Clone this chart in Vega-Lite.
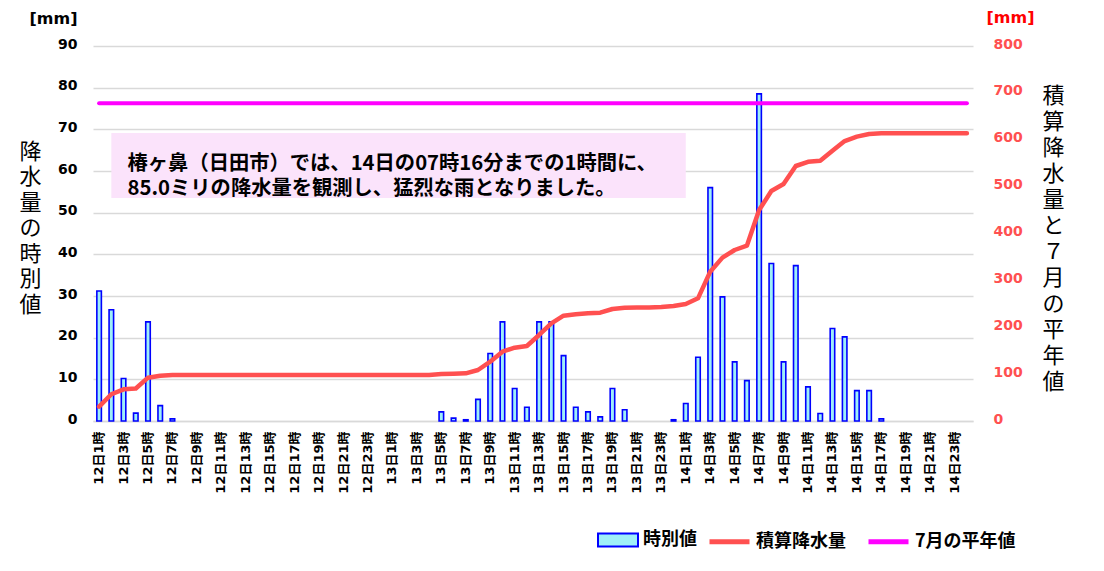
{
  "$schema": "https://vega.github.io/schema/vega-lite/v6.json",
  "autosize": {"type": "none"},
  "width": 880,
  "height": 375,
  "padding": {"left": 93, "top": 46, "right": 131, "bottom": 150},
  "background": "#ffffff",
  "config": {"view": {"stroke": null}},
  "data": {
    "values": [
      {"t": "12日1時", "h": 31.2, "c": 30.6, "n": 678},
      {"t": "12日2時", "h": 26.7, "c": 57, "n": 678},
      {"t": "12日3時", "h": 10.2, "c": 67.6, "n": 678},
      {"t": "12日4時", "h": 1.9, "c": 69.3, "n": 678},
      {"t": "12日5時", "h": 23.8, "c": 92.4, "n": 678},
      {"t": "12日6時", "h": 3.7, "c": 96.7, "n": 678},
      {"t": "12日7時", "h": 0.5, "c": 98, "n": 678},
      {"t": "12日8時", "h": 0, "c": 98, "n": 678},
      {"t": "12日9時", "h": 0, "c": 98, "n": 678},
      {"t": "12日10時", "h": 0, "c": 98, "n": 678},
      {"t": "12日11時", "h": 0, "c": 98, "n": 678},
      {"t": "12日12時", "h": 0, "c": 98, "n": 678},
      {"t": "12日13時", "h": 0, "c": 98, "n": 678},
      {"t": "12日14時", "h": 0, "c": 98, "n": 678},
      {"t": "12日15時", "h": 0, "c": 98, "n": 678},
      {"t": "12日16時", "h": 0, "c": 98, "n": 678},
      {"t": "12日17時", "h": 0, "c": 98, "n": 678},
      {"t": "12日18時", "h": 0, "c": 98, "n": 678},
      {"t": "12日19時", "h": 0, "c": 98, "n": 678},
      {"t": "12日20時", "h": 0, "c": 98, "n": 678},
      {"t": "12日21時", "h": 0, "c": 98, "n": 678},
      {"t": "12日22時", "h": 0, "c": 98, "n": 678},
      {"t": "12日23時", "h": 0, "c": 98, "n": 678},
      {"t": "12日24時", "h": 0, "c": 98, "n": 678},
      {"t": "13日1時", "h": 0, "c": 98, "n": 678},
      {"t": "13日2時", "h": 0, "c": 98, "n": 678},
      {"t": "13日3時", "h": 0, "c": 98, "n": 678},
      {"t": "13日4時", "h": 0, "c": 98, "n": 678},
      {"t": "13日5時", "h": 2.2, "c": 100.2, "n": 678},
      {"t": "13日6時", "h": 0.7, "c": 101, "n": 678},
      {"t": "13日7時", "h": 0.3, "c": 101.7, "n": 678},
      {"t": "13日8時", "h": 5.2, "c": 108.8, "n": 678},
      {"t": "13日9時", "h": 16.2, "c": 126.5, "n": 678},
      {"t": "13日10時", "h": 23.8, "c": 147.9, "n": 678},
      {"t": "13日11時", "h": 7.8, "c": 156.4, "n": 678},
      {"t": "13日12時", "h": 3.3, "c": 160, "n": 678},
      {"t": "13日13時", "h": 23.8, "c": 183.5, "n": 678},
      {"t": "13日14時", "h": 23.8, "c": 208.4, "n": 678},
      {"t": "13日15時", "h": 15.7, "c": 224.7, "n": 678},
      {"t": "13日16時", "h": 3.3, "c": 227.6, "n": 678},
      {"t": "13日17時", "h": 2.2, "c": 229.7, "n": 678},
      {"t": "13日18時", "h": 1.0, "c": 231, "n": 678},
      {"t": "13日19時", "h": 7.8, "c": 238.9, "n": 678},
      {"t": "13日20時", "h": 2.7, "c": 241.7, "n": 678},
      {"t": "13日21時", "h": 0, "c": 241.9, "n": 678},
      {"t": "13日22時", "h": 0, "c": 242, "n": 678},
      {"t": "13日23時", "h": 0, "c": 243, "n": 678},
      {"t": "13日24時", "h": 0.3, "c": 245.3, "n": 678},
      {"t": "14日1時", "h": 4.2, "c": 249.6, "n": 678},
      {"t": "14日2時", "h": 15.3, "c": 261.7, "n": 678},
      {"t": "14日3時", "h": 56.0, "c": 318.6, "n": 678},
      {"t": "14日4時", "h": 29.8, "c": 348.5, "n": 678},
      {"t": "14日5時", "h": 14.2, "c": 364.8, "n": 678},
      {"t": "14日6時", "h": 9.7, "c": 374, "n": 678},
      {"t": "14日7時", "h": 78.5, "c": 450, "n": 678},
      {"t": "14日8時", "h": 37.8, "c": 490.7, "n": 678},
      {"t": "14日9時", "h": 14.2, "c": 505.6, "n": 678},
      {"t": "14日10時", "h": 37.3, "c": 544, "n": 678},
      {"t": "14日11時", "h": 8.2, "c": 553, "n": 678},
      {"t": "14日12時", "h": 1.8, "c": 555.3, "n": 678},
      {"t": "14日13時", "h": 22.2, "c": 576.7, "n": 678},
      {"t": "14日14時", "h": 20.2, "c": 597.3, "n": 678},
      {"t": "14日15時", "h": 7.3, "c": 606.6, "n": 678},
      {"t": "14日16時", "h": 7.3, "c": 612.3, "n": 678},
      {"t": "14日17時", "h": 0.5, "c": 613.7, "n": 678},
      {"t": "14日18時", "h": 0, "c": 613.7, "n": 678},
      {"t": "14日19時", "h": 0, "c": 613.7, "n": 678},
      {"t": "14日20時", "h": 0, "c": 613.7, "n": 678},
      {"t": "14日21時", "h": 0, "c": 613.7, "n": 678},
      {"t": "14日22時", "h": 0, "c": 613.7, "n": 678},
      {"t": "14日23時", "h": 0, "c": 613.7, "n": 678},
      {"t": "14日24時", "h": 0, "c": 613.7, "n": 678}
    ]
  },
  "layer": [
    {
      "transform": [{"filter": "datum.h > 0"}],
      "mark": {"type": "bar", "stroke": "#0000FF", "strokeWidth": 1.6},
      "encoding": {
        "x": {
          "field": "t", "type": "nominal", "sort": null, "title": null,
          "scale": {
            "domain": ["12日1時","12日2時","12日3時","12日4時","12日5時","12日6時","12日7時","12日8時","12日9時","12日10時","12日11時","12日12時",
                       "12日13時","12日14時","12日15時","12日16時","12日17時","12日18時","12日19時","12日20時","12日21時","12日22時","12日23時","12日24時",
                       "13日1時","13日2時","13日3時","13日4時","13日5時","13日6時","13日7時","13日8時","13日9時","13日10時","13日11時","13日12時",
                       "13日13時","13日14時","13日15時","13日16時","13日17時","13日18時","13日19時","13日20時","13日21時","13日22時","13日23時","13日24時",
                       "14日1時","14日2時","14日3時","14日4時","14日5時","14日6時","14日7時","14日8時","14日9時","14日10時","14日11時","14日12時",
                       "14日13時","14日14時","14日15時","14日16時","14日17時","14日18時","14日19時","14日20時","14日21時","14日22時","14日23時","14日24時"],
            "paddingInner": 0.63, "paddingOuter": 0.315
          },
          "axis": {
            "values": ["12日1時","12日3時","12日5時","12日7時","12日9時","12日11時","12日13時","12日15時","12日17時","12日19時","12日21時","12日23時",
                       "13日1時","13日3時","13日5時","13日7時","13日9時","13日11時","13日13時","13日15時","13日17時","13日19時","13日21時","13日23時",
                       "14日1時","14日3時","14日5時","14日7時","14日9時","14日11時","14日13時","14日15時","14日17時","14日19時","14日21時","14日23時"],
            "labelAngle": 270, "labelFont": "DejaVu Sans, Noto Sans CJK JP", "labelFontSize": 13, "labelFontWeight": "bold",
            "labelColor": "#000000", "labelPadding": 10, "ticks": false, "grid": false,
            "domainColor": "#D9D9D9", "domainWidth": 1.5, "labelOverlap": false
          }
        },
        "y": {
          "field": "h", "type": "quantitative",
          "scale": {"domain": [0, 90]},
          "axis": {
            "orient": "left", "values": [0,10,20,30,40,50,60,70,80,90],
            "labelFont": "DejaVu Sans", "labelFontSize": 14, "labelFontWeight": "bold", "labelColor": "#000000",
            "labelPadding": 16, "labelOffset": -2, "ticks": false, "domain": false,
            "grid": true, "gridColor": "#D9D9D9", "gridWidth": 1.5,
            "title": "[mm]", "titleAngle": 0, "titleX": -40, "titleY": -28, "titleAlign": "center", "titleBaseline": "middle",
            "titleFont": "DejaVu Sans", "titleFontSize": 16, "titleFontWeight": "bold", "titleColor": "#000000"
          }
        },
        "fill": {
          "datum": "時別値",
          "scale": {"domain": ["時別値"], "range": ["#9FEFF8"]},
          "legend": {
            "orient": "none", "legendX": 504, "legendY": 473, "direction": "horizontal", "title": null, "padding": 0,
            "labelFont": "Noto Sans CJK JP", "labelFontSize": 18, "labelFontWeight": "bold", "labelColor": "#000000",
            "symbolType": "M-1,-0.33H1V0.33H-1Z", "symbolSize": 1600, "symbolStrokeColor": "#0000FF", "symbolStrokeWidth": 2,
            "labelOffset": 4
          }
        }
      }
    },
    {
      "data": {"values": [{}]},
      "mark": {"type": "rect", "color": "#FBE3FB"},
      "encoding": {
        "x": {"datum": "12日2時", "type": "nominal", "bandPosition": 0.5},
        "x2": {"datum": "14日1時"},
        "y": {
          "datum": 69.1, "type": "quantitative", "scale": {"domain": [0, 90]},
          "axis": {
            "orient": "left", "labels": false, "ticks": false, "domain": false, "grid": false,
            "title": ["降","水","量","の","時","別","値"], "titleAngle": 0, "titleX": -63, "titleY": 95,
            "titleAlign": "center", "titleBaseline": "top", "titleLineHeight": 25.5,
            "titleFont": "Noto Sans CJK JP", "titleFontSize": 22, "titleFontWeight": "normal", "titleColor": "#000000"
          }
        },
        "y2": {"datum": 53.5}
      }
    },
    {
      "data": {"values": [{}]},
      "mark": {"type": "text", "align": "left", "baseline": "middle", "dx": 4, "lineHeight": 25,
               "font": "Noto Sans CJK JP", "fontSize": 20.3, "fontWeight": "bold", "color": "#000000"},
      "encoding": {
        "x": {"datum": "12日3時", "type": "nominal"},
        "y": {"datum": 61.8, "type": "quantitative", "scale": {"domain": [0, 90]}, "axis": null},
        "text": {"value": ["椿ヶ鼻（日田市）では、14日の07時16分までの1時間に、", "85.0ミリの降水量を観測し、猛烈な雨となりました。"]}
      }
    },
    {
      "mark": {"type": "line", "strokeWidth": 4.5, "strokeCap": "round", "strokeJoin": "round"},
      "encoding": {
        "x": {"field": "t", "type": "nominal", "sort": null, "title": null},
        "y": {
          "field": "c", "type": "quantitative", "scale": {"domain": [0, 800]},
          "axis": {
            "orient": "right", "values": [0,100,200,300,400,500,600,700,800],
            "labelFont": "DejaVu Sans", "labelFontSize": 14, "labelFontWeight": "bold", "labelColor": "#FF5050",
            "labelPadding": 20, "labelOffset": -2, "ticks": false, "domain": false, "grid": false,
            "title": "[mm]", "titleAngle": 0, "titleX": 37, "titleY": -29, "titleAlign": "center", "titleBaseline": "middle",
            "titleFont": "DejaVu Sans", "titleFontSize": 16, "titleFontWeight": "bold", "titleColor": "#FF0000"
          }
        },
        "stroke": {
          "datum": "積算降水量",
          "scale": {"domain": ["積算降水量", "7月の平年値"], "range": ["#FF5050", "#FF00FF"]},
          "legend": {
            "orient": "none", "legendX": 614, "legendY": 473, "direction": "horizontal", "title": null, "padding": 0,
            "labelFont": "Noto Sans CJK JP", "labelFontSize": 18, "labelFontWeight": "bold", "labelColor": "#000000",
            "symbolType": "stroke", "symbolSize": 1600, "symbolStrokeWidth": 5, "columnPadding": 12, "labelOffset": 4
          }
        }
      }
    },
    {
      "mark": {"type": "line", "strokeWidth": 4, "strokeCap": "round"},
      "encoding": {
        "x": {"field": "t", "type": "nominal", "sort": null, "title": null},
        "y": {
          "field": "n", "type": "quantitative", "scale": {"domain": [0, 800]},
          "axis": {
            "orient": "right", "labels": false, "ticks": false, "domain": false, "grid": false,
            "title": ["積","算","降","水","量","と","７","月","の","平","年","値"], "titleAngle": 0, "titleX": 80, "titleY": 39,
            "titleAlign": "center", "titleBaseline": "top", "titleLineHeight": 26,
            "titleFont": "Noto Sans CJK JP", "titleFontSize": 22, "titleFontWeight": "normal", "titleColor": "#000000"
          }
        },
        "stroke": {"datum": "7月の平年値"}
      }
    }
  ],
  "resolve": {"scale": {"y": "independent"}}
}
